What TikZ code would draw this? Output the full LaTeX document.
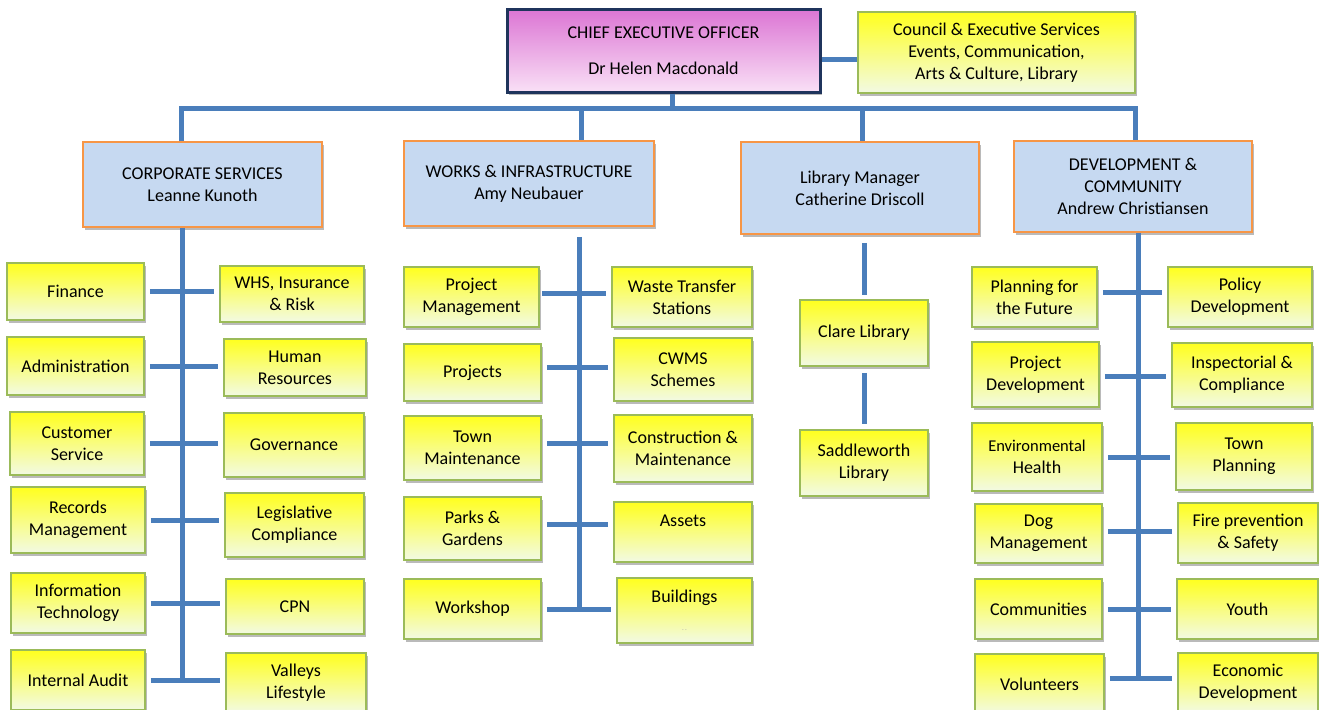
\documentclass[tikz,border=0pt]{standalone}
\usepackage{fontspec}
\setmainfont{Carlito}
\usetikzlibrary{shadows}
\definecolor{linkblue}{RGB}{74,126,187}
\definecolor{leafedge}{RGB}{155,187,89}
\definecolor{leaftop}{RGB}{255,255,30}
\definecolor{leafbottom}{RGB}{242,250,228}
\definecolor{deptedge}{RGB}{247,150,70}
\definecolor{deptfill}{RGB}{198,217,241}
\definecolor{ceoedge}{RGB}{31,52,92}
\definecolor{ceotop}{RGB}{220,118,212}
\definecolor{ceobottom}{RGB}{249,224,246}
\newcommand{\boxfont}{\fontsize{18}{22}\selectfont}
\tikzset{
  link/.style={line width=5pt, color=linkblue},
  bar/.style={link, shorten <=5pt, shorten >=5pt},
  leaf/.style={rectangle, draw=leafedge, line width=1.5pt, top color=leaftop,
               bottom color=leafbottom, inner sep=0pt, align=center, font=\boxfont,
               drop shadow={shadow xshift=2pt, shadow yshift=-3pt, fill=black!45, opacity=.6}},
  dept/.style={rectangle, draw=deptedge, line width=1.5pt, fill=deptfill,
               inner sep=0pt, align=center, font=\boxfont,
               drop shadow={shadow xshift=2pt, shadow yshift=-3pt, fill=black!45, opacity=.6}},
  chief/.style={rectangle, draw=ceoedge, line width=3pt, top color=ceotop,
                bottom color=ceobottom, inner sep=0pt, align=center, font=\boxfont,
                drop shadow={shadow xshift=2pt, shadow yshift=-3pt, fill=black!45, opacity=.6}},
}

\begin{document}
\begin{tikzpicture}[x=1pt, y=-1pt]
    \useasboundingbox (0,0) rectangle (1319,709);

    % top level
    \node[chief, minimum width=313, minimum height=82] (ceo) at (663.5,51)
          {CHIEF EXECUTIVE OFFICER\\[14pt]Dr Helen Macdonald};
    \node[leaf, minimum width=277, minimum height=81] (council) at (996.5,52.5)
          {Council \& Executive Services\\Events, Communication,\\Arts \& Culture, Library};

    % departments
    \node[dept, minimum width=239, minimum height=85] (corp) at (202.5,184.5)
          {CORPORATE SERVICES\\Leanne Kunoth};
    \node[dept, minimum width=250, minimum height=85] (works) at (529,183.5)
          {WORKS \& INFRASTRUCTURE\\Amy Neubauer};
    \node[dept, minimum width=238, minimum height=92] (libm) at (860,188)
          {Library Manager\\Catherine Driscoll};
    \node[dept, minimum width=238, minimum height=91] (dev) at (1133,186.5)
          {DEVELOPMENT \&\\COMMUNITY\\Andrew Christiansen};

    % corporate services
    \node[leaf, minimum width=137, minimum height=57] (fin) at (75.5,291.5) {Finance};
    \node[leaf, minimum width=137, minimum height=58] (admin) at (75.5,366) {Administration};
    \node[leaf, minimum width=134, minimum height=63] (custserv) at (77,443.5) {Customer\\Service};
    \node[leaf, minimum width=134, minimum height=66] (records) at (78,520) {Records\\Management};
    \node[leaf, minimum width=134, minimum height=60] (infotech) at (78,603) {Information\\Technology};
    \node[leaf, minimum width=134, minimum height=60] (audit) at (78,680) {Internal Audit};
    \node[leaf, minimum width=144, minimum height=56] (whs) at (292,294) {WHS, Insurance\\\& Risk};
    \node[leaf, minimum width=142, minimum height=57] (hr) at (295,367.5) {Human\\Resources};
    \node[leaf, minimum width=140, minimum height=64] (gov) at (294,445) {Governance};
    \node[leaf, minimum width=139, minimum height=64] (legis) at (294.5,525) {Legislative\\Compliance};
    \node[leaf, minimum width=138, minimum height=55] (cpn) at (295,606.5) {CPN};
    \node[leaf, minimum width=140, minimum height=60] (valleys) at (296,683) {Valleys\\Lifestyle};

    % works & infrastructure
    \node[leaf, minimum width=135, minimum height=60] (projman) at (471.5,297) {Project\\Management};
    \node[leaf, minimum width=137, minimum height=57] (projects) at (472.5,372.5) {Projects};
    \node[leaf, minimum width=137, minimum height=64] (townmaint) at (472.5,448) {Town\\Maintenance};
    \node[leaf, minimum width=137, minimum height=63] (parks) at (472.5,528.5) {Parks \&\\Gardens};
    \node[leaf, minimum width=137, minimum height=60] (workshop) at (472.5,609) {Workshop};
    \node[leaf, minimum width=140, minimum height=60] (waste) at (682,297) {Waste Transfer\\Stations};
    \node[leaf, minimum width=138, minimum height=63] (cwms) at (683,369.5) {CWMS\\Schemes};
    \node[leaf, minimum width=138, minimum height=67] (constr) at (683,448.5) {Construction \&\\Maintenance};
    \node[leaf, minimum width=138, minimum height=60] (assets) at (683,532) {Assets\\\phantom{A}};
    \node[leaf, minimum width=135, minimum height=65] (buildings) at (684.5,610.5)
          {Buildings\\[6pt]{\scriptsize\color{black!35}.\,.}};

    % library
    \node[leaf, minimum width=128, minimum height=66] (clare) at (864,333) {Clare Library};
    \node[leaf, minimum width=128, minimum height=66] (saddle) at (864,463) {Saddleworth\\Library};

    % development & community
    \node[leaf, minimum width=125, minimum height=60] (planning) at (1034.5,297) {Planning for\\the Future};
    \node[leaf, minimum width=127, minimum height=65] (projdev) at (1035.5,374.5) {Project\\Development};
    \node[leaf, minimum width=130, minimum height=68] (envhealth) at (1037,457) {{\fontsize{16.5}{22}\selectfont Environmental}\\Health};
    \node[leaf, minimum width=127, minimum height=59] (dog) at (1038.5,533.5) {Dog\\Management};
    \node[leaf, minimum width=127, minimum height=60] (communities) at (1038.5,609) {Communities};
    \node[leaf, minimum width=129, minimum height=60] (volunteers) at (1039.5,684) {Volunteers};
    \node[leaf, minimum width=144, minimum height=60] (policy) at (1240,297) {Policy\\Development};
    \node[leaf, minimum width=140, minimum height=64] (inspect) at (1242,375) {Inspectorial \&\\Compliance};
    \node[leaf, minimum width=136, minimum height=67] (townplan) at (1244,456.5) {Town\\Planning};
    \node[leaf, minimum width=140, minimum height=60] (fire) at (1248,533) {Fire prevention\\\& Safety};
    \node[leaf, minimum width=141, minimum height=60] (youth) at (1247.5,609) {Youth};
    \node[leaf, minimum width=140, minimum height=60] (econ) at (1248,683) {Economic\\Development};

    % bus and trunks
    \coordinate (ceoaxis) at (672,108);
    \coordinate (corpaxis) at (181,108);
    \coordinate (worksaxis) at (581,108);
    \coordinate (libaxis) at (862,108);
    \coordinate (devaxis) at (1135,108);
    \coordinate (corptrunk) at (182,0);
    \coordinate (workstrunk) at (579,0);
    \coordinate (devtrunk) at (1138,0);

    \draw[link] (ceo.south -| ceoaxis) -- (ceoaxis);
    \draw[link, transform canvas={yshift=-9pt}] (ceo.east) -- (ceo.east -| council.west);
    \draw[link] (corp.north -| corpaxis) -- (corpaxis) -- (devaxis) -- (dev.north -| devaxis);
    \draw[link] (worksaxis) -- (works.north -| worksaxis);
    \draw[link] (libaxis) -- (libm.north -| libaxis);

    \draw[link] (corp.south -| corptrunk) -- (audit.east -| corptrunk);
    \draw[link, shorten <=10pt] (works.south -| workstrunk) -- (workshop.east -| workstrunk);
    \draw[link, shorten >=6pt] (dev.south -| devtrunk) -- (volunteers.east -| devtrunk);
    \draw[link, shorten <=8pt, shorten >=4pt] (clare.north |- libm.south) -- (clare.north);
    \draw[link, shorten <=6pt, shorten >=5pt] (clare.south) -- (saddle.north);

    % cross bars
    \draw[bar] (fin.east) -- (fin.east -| whs.west);
    \draw[bar] (admin.east) -- (admin.east -| hr.west);
    \draw[bar] (custserv.east) -- (custserv.east -| gov.west);
    \draw[bar] (records.east) -- (records.east -| legis.west);
    \draw[bar] (infotech.east) -- (infotech.east -| cpn.west);
    \draw[bar] (audit.east) -- (audit.east -| valleys.west);

    \draw[bar, shorten <=2pt, transform canvas={yshift=4pt}] (projman.east) -- (projman.east -| waste.west);
    \draw[bar, transform canvas={yshift=5pt}] (projects.east) -- (projects.east -| cwms.west);
    \draw[bar, transform canvas={yshift=5pt}] (townmaint.east) -- (townmaint.east -| constr.west);
    \draw[bar, transform canvas={yshift=4pt}] (parks.east) -- (parks.east -| assets.west);
    \draw[bar] (workshop.east) -- (workshop.east -| buildings.west);

    \draw[bar, transform canvas={yshift=5pt}] (planning.east) -- (planning.east -| policy.west);
    \draw[bar, transform canvas={yshift=-2pt}] (projdev.east) -- (projdev.east -| inspect.west);
    \draw[bar] (envhealth.east) -- (envhealth.east -| townplan.west);
    \draw[bar, transform canvas={yshift=2pt}] (dog.east) -- (dog.east -| fire.west);
    \draw[bar] (communities.east) -- (communities.east -| youth.west);
    \draw[bar, transform canvas={yshift=6pt}] (volunteers.east) -- (volunteers.east -| econ.west);
\end{tikzpicture}
\end{document}
